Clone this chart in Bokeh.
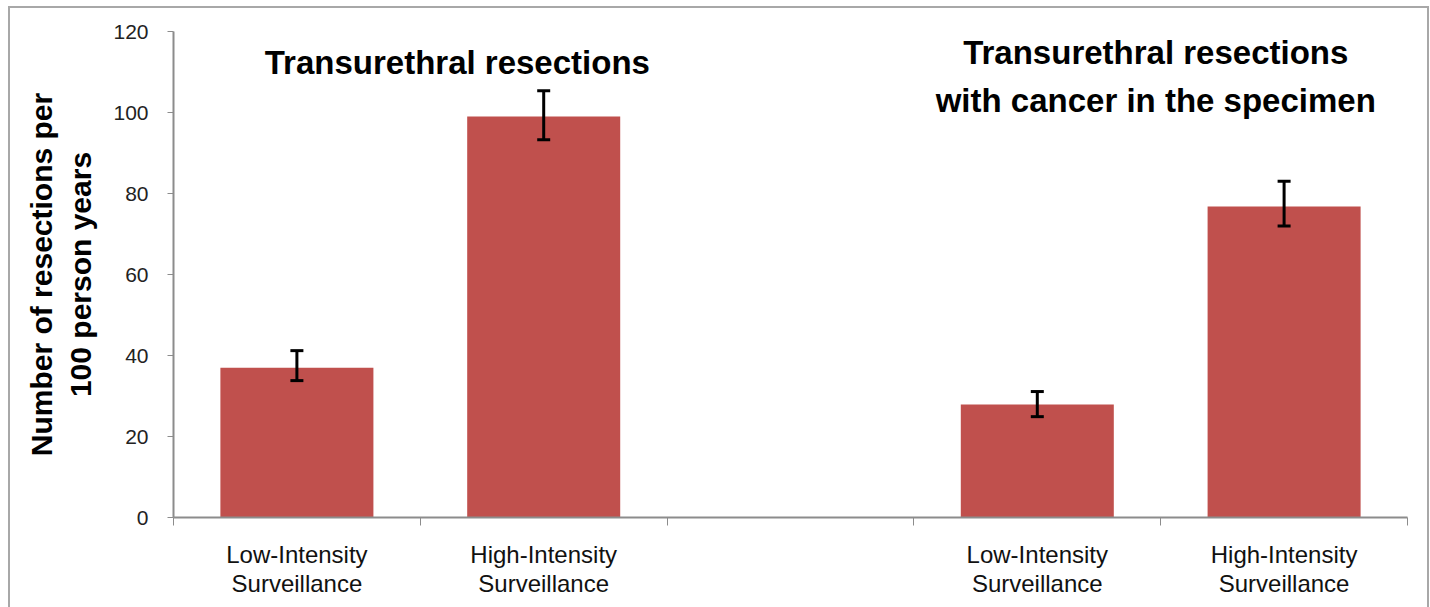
from bokeh.plotting import figure
from bokeh.models import ColumnDataSource, Whisker, TeeHead, FixedTicker, Label, Range1d
from bokeh.embed import file_html
from bokeh.resources import INLINE

# ---- data ----
groups = ["Transurethral resections", "Transurethral resections\nwith cancer in the specimen"]
arms = ["Low-Intensity\nSurveillance", "High-Intensity\nSurveillance"]
rate_all = [37.0, 99.0]
lower_all = [33.8, 93.3]
upper_all = [41.2, 105.4]
rate_cancer = [27.9, 76.8]
lower_cancer = [24.9, 72.0]
upper_cancer = [31.1, 83.0]
y_ticks = [0, 20, 40, 60, 80, 100, 120]

# slots: group g occupies slots 3g, 3g+1 (one empty slot between groups)
xs, tops, lows, highs, labels = [], [], [], [], {}
for g, (r, lo, hi) in enumerate([(rate_all, lower_all, upper_all),
                                  (rate_cancer, lower_cancer, upper_cancer)]):
    for a in range(len(arms)):
        x = g * 3 + a + 0.5
        xs.append(x)
        tops.append(r[a])
        lows.append(lo[a])
        highs.append(hi[a])
        labels[x] = arms[a]

src = ColumnDataSource(dict(x=xs, top=tops, lower=lows, upper=highs))
n_slots = 5

p = figure(width=1417, height=599, output_backend="svg", toolbar_location=None,
           x_range=Range1d(0, n_slots), y_range=Range1d(0, 120),
           min_border_left=163, min_border_right=20, min_border_top=23, min_border_bottom=90)
p.margin = (8, 0, 0, 10)
p.styles = {"outline": "2px solid #a8a8a8"}
p.outline_line_color = None
p.grid.grid_line_color = None
p.background_fill_color = "white"
p.border_fill_color = "white"

p.vbar(x="x", top="top", width=0.62, source=src, fill_color="#c0504d", line_color=None)
w = Whisker(base="x", lower="lower", upper="upper", source=src, line_color="black", line_width=3,
            level="overlay",
            upper_head=TeeHead(size=13, line_width=3, line_color="black"),
            lower_head=TeeHead(size=13, line_width=3, line_color="black"))
p.add_layout(w)

# axes
p.xaxis.ticker = FixedTicker(ticks=xs, minor_ticks=list(range(0, n_slots + 1)))
p.xaxis.major_label_overrides = {k: v for k, v in labels.items()}
p.xaxis.major_tick_out = 0
p.xaxis.major_tick_in = 0
p.xaxis.minor_tick_out = 8
p.xaxis.minor_tick_in = 0
p.xaxis.axis_line_color = "#8c8c8c"
p.xaxis.minor_tick_line_color = "#8c8c8c"
p.xaxis.axis_line_width = 2
p.xaxis.major_label_text_font = "Liberation Sans"
p.xaxis.major_label_text_font_size = "24px"
p.xaxis.major_label_text_color = "#111111"
p.xaxis.major_label_text_line_height = 1.1
p.xaxis.major_label_standoff = 15

p.yaxis.ticker = FixedTicker(ticks=y_ticks, minor_ticks=[])
p.yaxis.major_tick_out = 6
p.yaxis.major_tick_in = 0
p.yaxis.axis_line_color = "#8c8c8c"
p.yaxis.major_tick_line_color = "#8c8c8c"
p.yaxis.axis_line_width = 2
p.yaxis.major_label_text_font = "Liberation Sans"
p.yaxis.major_label_text_font_size = "21px"
p.yaxis.major_label_text_color = "#222222"
p.yaxis.major_label_standoff = 19
p.yaxis.axis_label = "Number of resections per\n100 person years"
p.yaxis.axis_label_text_font = "Liberation Sans"
p.yaxis.axis_label_text_font_style = "bold"
p.yaxis.axis_label_text_font_size = "30px"
p.yaxis.axis_label_text_color = "black"
p.yaxis.axis_label_standoff = 13

# group titles
p.add_layout(Label(x=1.15, y=112.3, text=groups[0], text_align="center", text_baseline="middle",
                   text_font="Liberation Sans", text_font_style="bold", text_font_size="33px",
                   text_color="black"))
p.add_layout(Label(x=3.98, y=109.0, text=groups[1], text_align="center", text_baseline="middle",
                   text_font="Liberation Sans", text_font_style="bold", text_font_size="33px",
                   text_color="black", text_line_height=1.3))

open("out.html", "w").write(file_html(p, INLINE))
